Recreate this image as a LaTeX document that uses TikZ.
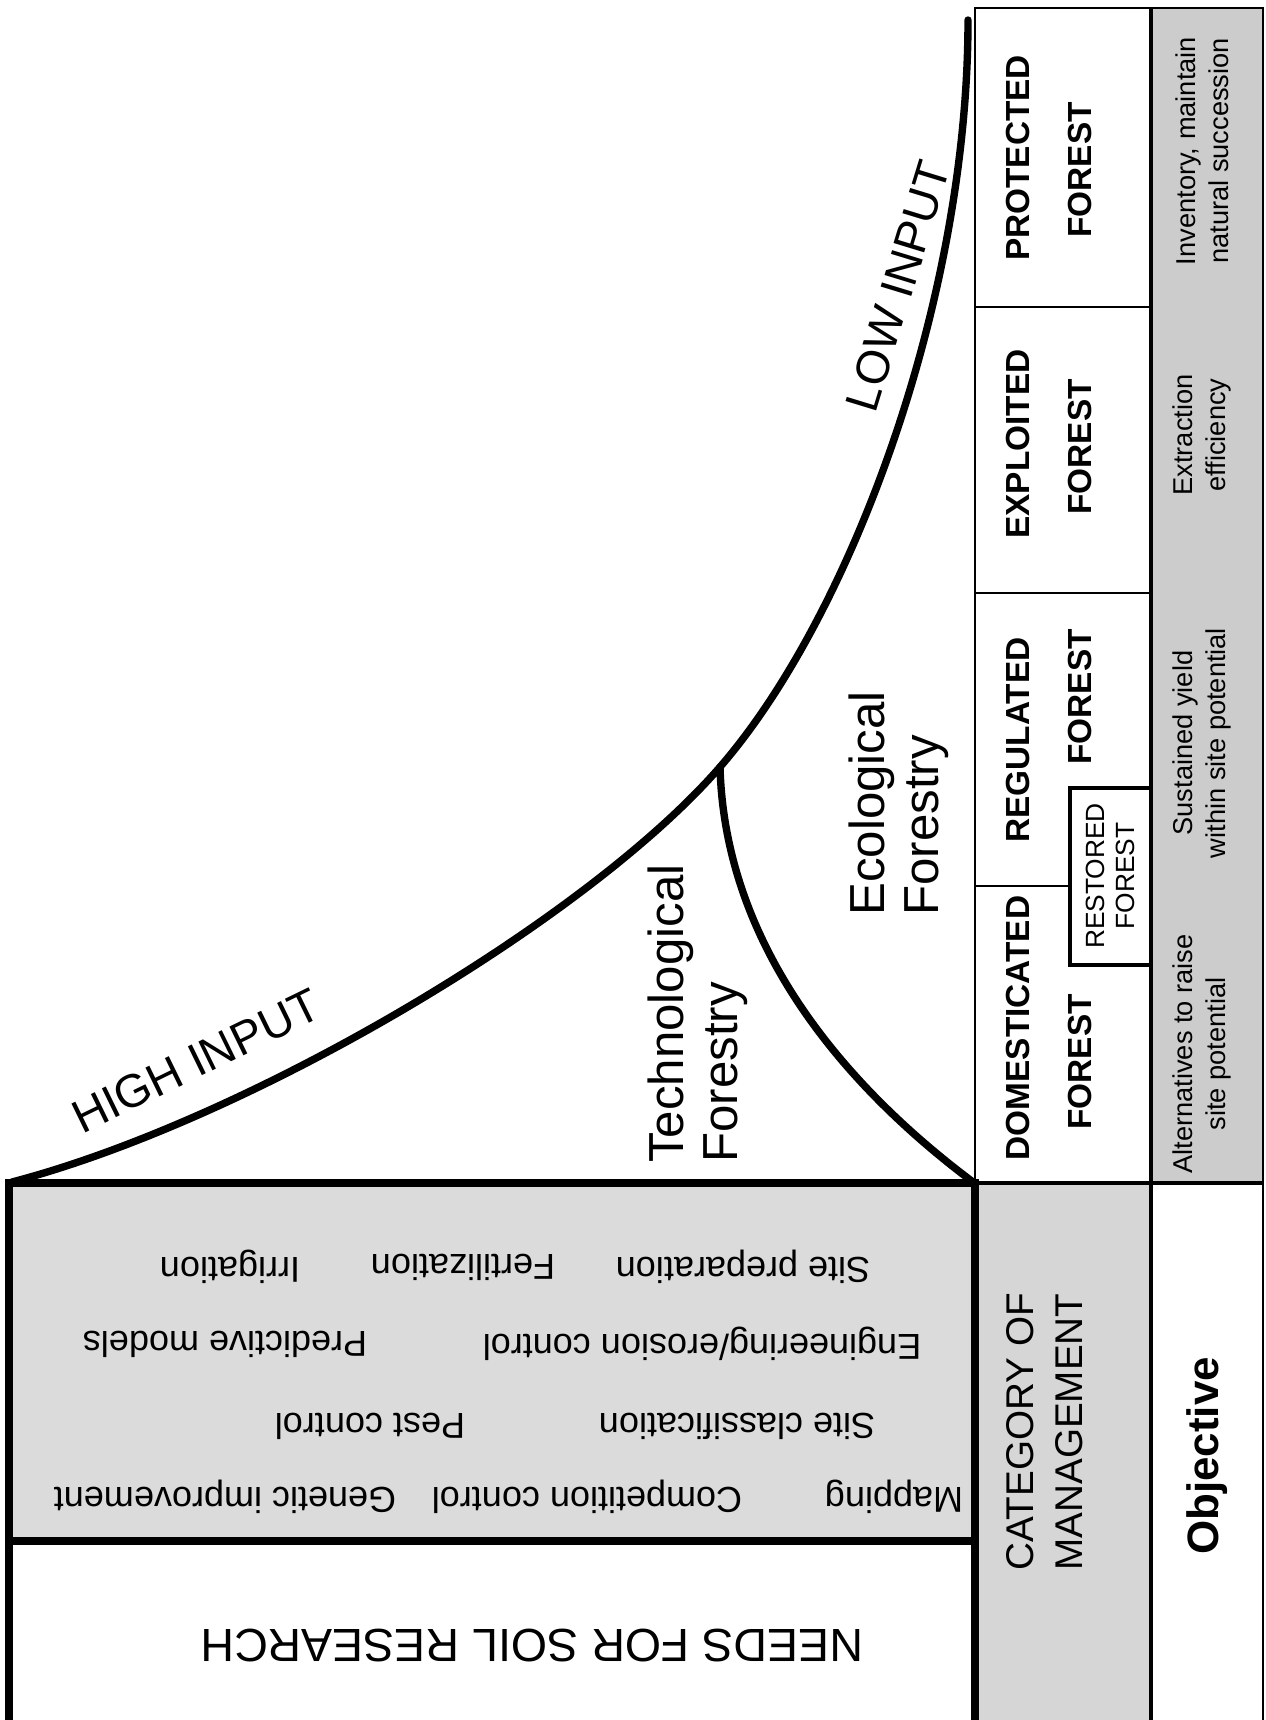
\documentclass[tikz,border=0pt]{standalone}
\usepackage{fontspec}
\setmainfont{Liberation Sans}
\definecolor{leftgray}{gray}{0.86}
\definecolor{catgray}{gray}{0.84}
\definecolor{objgray}{gray}{0.80}
\begin{document}
\begin{tikzpicture}[x=0.02cm,y=-0.02cm,
  thinline/.style={line width=1.1pt},
  midline/.style={line width=2.4pt},
  frame/.style={line width=4.5pt},
  curveline/.style={line width=4.2pt, line cap=round},
  catlabel/.style={rotate=90, inner sep=0pt, font=\fontsize{19}{22}\selectfont\bfseries},
  objlabel/.style={rotate=90, align=center, inner sep=0pt, font=\fontsize{15.5}{18.5}\selectfont},
  itemlabel/.style={rotate=180, inner sep=0pt, font=\fontsize{20.5}{24}\selectfont},
  biglabel/.style={rotate=90, align=left, inner sep=0pt, anchor=west, font=\fontsize{28}{31}\selectfont},
  inputlabel/.style={inner sep=0pt, font=\fontsize{26.5}{30}\selectfont},
]
\useasboundingbox (0,0) rectangle (1266,1720);
% fills
\fill[objgray] (1151,8) rectangle (1263,1183);
\fill[leftgray] (9,1183) rectangle (975,1541);
\fill[catgray] (975,1183) rectangle (1151,1720);
% upper table
\draw[thinline] (975,8) rectangle (1263,1183);
\draw[thinline] (975,307) -- (1151,307);
\draw[thinline] (975,593) -- (1151,593);
\draw[thinline] (975,886) -- (1070,886);
\draw[midline] (1151,8) -- (1151,1183);
\draw[midline] (1070,788) rectangle (1151,965);
% lower boxes
\draw[frame] (9,1183) rectangle (975,1541);
\draw[frame] (9,1541) -- (9,1720);
\draw[frame] (975,1541) -- (975,1720);
\draw[midline] (975,1183) -- (1263,1183);
\draw[midline] (1151,1183) -- (1151,1720);
\draw[thinline] (1263,1183) -- (1263,1720);
% curves
\coordinate (hstart) at (12,1182);
\coordinate (branch) at (720,767);
\coordinate (lend) at (968,20);
\coordinate (eend) at (973,1182);
\draw[curveline] (hstart) .. controls (252,1119) and (589,918) .. (branch)
  .. controls (851,616) and (968,300) .. (lend);
\draw[curveline] (branch) .. controls (725,950) and (850,1090) .. (eend);
% labels on curves
\node[inputlabel, rotate=26] (high) at (196,1061) {HIGH INPUT};
\node[inputlabel, rotate=73] (low) at (898,286) {LOW INPUT};
\node[biglabel] (tech) at (698,1163) {Technological\\Forestry};
\node[biglabel] (eco) at (899,916) {Ecological\\Forestry};
% category cells
\node[catlabel] (protA) at (1018,158) {PROTECTED};
\node[catlabel] (protB) at (1080,170) {FOREST};
\node[catlabel] (explA) at (1018,444) {EXPLOITED};
\node[catlabel] (explB) at (1080,447) {FOREST};
\node[catlabel] (regA) at (1018,740) {REGULATED};
\node[catlabel] (regB) at (1080,697) {FOREST};
\node[catlabel] (domA) at (1018,1028) {DOMESTICATED};
\node[catlabel] (domB) at (1080,1062) {FOREST};
\node[rotate=90, align=center, inner sep=0pt, font=\fontsize{15}{17}\selectfont] (rest) at (1110,876) {RESTORED\\FOREST};
% objectives
\node[objlabel] (o1) at (1202,151) {Inventory, maintain\\natural succession};
\node[objlabel] (o2) at (1202,435) {Extraction\\efficiency};
\node[objlabel] (o3) at (1202,743) {Sustained yield\\within site potential};
\node[objlabel] (o4) at (1202,1054) {Alternatives to raise\\site potential};
% bottom right
\node[rotate=90, align=center, inner sep=0pt, font=\fontsize{22}{28}\selectfont] (catm) at (1045,1432) {CATEGORY OF\\MANAGEMENT};
\node[rotate=90, inner sep=0pt, font=\fontsize{25}{30}\selectfont\bfseries] (objl) at (1207,1456) {Objective};
% research needs
\node[rotate=180, inner sep=0pt, font=\fontsize{26.5}{30}\selectfont] (needs) at (532,1646) {NEEDS FOR SOIL RESEARCH};
\node[itemlabel] (i1) at (894,1497) {Mapping};
\node[itemlabel] (i2) at (587,1497) {Competition control};
\node[itemlabel] (i3) at (225,1497) {Genetic improvement};
\node[itemlabel] (i4) at (737,1426) {Site classification};
\node[itemlabel] (i5) at (370,1426) {Pest control};
\node[itemlabel] (i6) at (702,1344) {Engineering/erosion control};
\node[itemlabel] (i7) at (225,1344) {Predictive models};
\node[itemlabel] (i8) at (743,1267) {Site preparation};
\node[itemlabel] (i9) at (463,1267) {Fertilization};
\node[itemlabel] (i10) at (230,1267) {Irrigation};
\end{tikzpicture}
\end{document}
